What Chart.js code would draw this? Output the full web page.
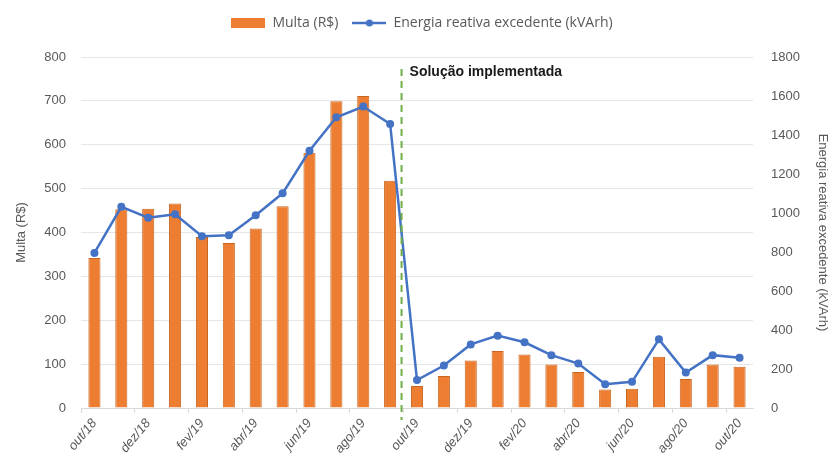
<!DOCTYPE html>
<html>
<head>
<meta charset="utf-8">
<script src="https://cdn.jsdelivr.net/npm/chart.js@4.4.0/dist/chart.umd.min.js"></script>
<style>
  html, body { margin: 0; padding: 0; background: #fff; }
  #wrap { width: 836px; height: 469px; }
</style>
</head>
<body>
<div id="wrap"><canvas id="c" width="836" height="469"></canvas></div>
<script>
// Monthly data, out/18 .. out/20
const months = ['out/18','nov/18','dez/18','jan/19','fev/19','mar/19','abr/19','mai/19','jun/19','jul/19','ago/19','set/19',
  'out/19','nov/19','dez/19','jan/20','fev/20','mar/20','abr/20','mai/20','jun/20','jul/20','ago/20','set/20','out/20'];
const multa = [342, 453, 454, 466, 390, 376, 409, 460, 582, 699, 711, 518,
  50, 73, 108, 130, 122, 99, 82, 42, 44, 117, 66, 99, 94];
const energia = [795, 1032, 976, 993, 881, 886, 988, 1101, 1319, 1491, 1546, 1457,
  143, 218, 326, 371, 337, 271, 228, 122, 134, 352, 182, 271, 258];
const markerLabel = 'Solução implementada';
const markerAfter = 11; // line drawn between set/19 and out/19

const grey = '#595959';
const font = {family: 'Liberation Sans', size: 13};

// legend swatches
function swatch(kind) {
  const c = document.createElement('canvas');
  c.width = 34; c.height = 12;
  const g = c.getContext('2d');
  if (kind === 'bar') {
    g.fillStyle = '#ED7D31';
    g.fillRect(0, 1, 34, 10);
  } else {
    g.strokeStyle = '#4472C4';
    g.lineWidth = 2.5;
    g.beginPath(); g.moveTo(0, 6); g.lineTo(34, 6); g.stroke();
    g.fillStyle = '#4472C4';
    g.beginPath(); g.arc(17, 6, 3.5, 0, Math.PI * 2); g.fill();
  }
  return c;
}
const swBar = swatch('bar');
const swLine = swatch('line');

// extra room under the legend
const legendGap = {
  id: 'legendGap',
  beforeInit(chart) {
    const fit = chart.legend.fit;
    chart.legend.fit = function () {
      fit.bind(chart.legend)();
      this.height += 17;
    };
  }
};

// dashed "solution" line + label
const markerPlugin = {
  id: 'marker',
  afterDatasetsDraw(chart) {
    const {ctx, scales: {x}, chartArea} = chart;
    const px = (x.getPixelForValue(markerAfter) + x.getPixelForValue(markerAfter + 1)) / 2 - 2;
    ctx.save();
    ctx.strokeStyle = '#70AD47';
    ctx.lineWidth = 2;
    ctx.setLineDash([7, 5]);
    ctx.beginPath();
    ctx.moveTo(px, chartArea.top + 12);
    ctx.lineTo(px, chartArea.bottom + 12);
    ctx.stroke();
    ctx.setLineDash([]);
    ctx.fillStyle = '#1a1a1a';
    ctx.font = 'bold 14px "Liberation Sans"';
    ctx.textBaseline = 'middle';
    ctx.fillText(markerLabel, px + 8, chartArea.top + 15);
    ctx.restore();
  }
};

new Chart(document.getElementById('c').getContext('2d'), {
  type: 'bar',
  data: {
    labels: months,
    datasets: [
      {
        type: 'line',
        label: 'Energia reativa excedente (kVArh)',
        data: energia,
        yAxisID: 'y2',
        borderColor: '#4472C4',
        backgroundColor: '#4472C4',
        borderWidth: 2.5,
        pointRadius: 4,
        pointBorderWidth: 0,
        tension: 0,
        order: 0
      },
      {
        label: 'Multa (R$)',
        data: multa,
        yAxisID: 'y',
        backgroundColor: '#ED7D31',
        borderColor: '#C9651F',
        borderWidth: 1,
        barPercentage: 0.9,
        categoryPercentage: 0.5,
        order: 1
      }
    ]
  },
  options: {
    responsive: false,
    animation: false,
    layout: {padding: {left: 14, right: 6, top: 2, bottom: 0}},
    plugins: {
      legend: {
        reverse: true,
        labels: {
          color: grey,
          font: {family: 'Open Sans', size: 14},
          usePointStyle: true,
          pointStyleWidth: 34,
          boxHeight: 12,
          padding: 14,
          generateLabels(chart) {
            return chart.data.datasets.map((ds, i) => ({
              text: ds.label,
              pointStyle: ds.type === 'line' ? swLine : swBar,
              fontColor: grey,
              lineWidth: 0,
              datasetIndex: i
            }));
          }
        }
      },
      tooltip: {enabled: false}
    },
    scales: {
      x: {
        offset: true,
        grid: {
          offset: true,
          drawOnChartArea: false,
          tickLength: 5,
          color: ctx => (ctx.index % 2 === 0 ? '#d9d9d9' : 'rgba(0,0,0,0)')
        },
        border: {color: '#d9d9d9'},
        ticks: {
          color: grey,
          font: {family: 'Liberation Sans', size: 13, style: 'italic'},
          autoSkip: false,
          minRotation: 50,
          maxRotation: 50,
          callback: (v, i) => (i % 2 === 0 ? months[i] : '')
        },
        afterFit(s) { s.height = 61; }
      },
      y: {
        position: 'left',
        min: 0,
        max: 800,
        ticks: {stepSize: 100, color: grey, font: font, padding: 15},
        grid: {color: '#e6e6e6', drawTicks: false},
        border: {display: false},
        title: {display: true, text: 'Multa (R$)', color: grey, font: font, padding: 0},
        afterFit(s) { s.width = 67; }
      },
      y2: {
        position: 'right',
        min: 0,
        max: 1800,
        ticks: {stepSize: 200, color: grey, font: font, padding: 18, callback: v => String(v)},
        grid: {drawOnChartArea: false, drawTicks: false},
        border: {display: false},
        title: {display: true, text: 'Energia reativa excedente (kVArh)', color: grey, font: font, padding: 0},
        afterFit(s) { s.width = 77; }
      }
    }
  },
  plugins: [legendGap, markerPlugin]
});
</script>
</body>
</html>
